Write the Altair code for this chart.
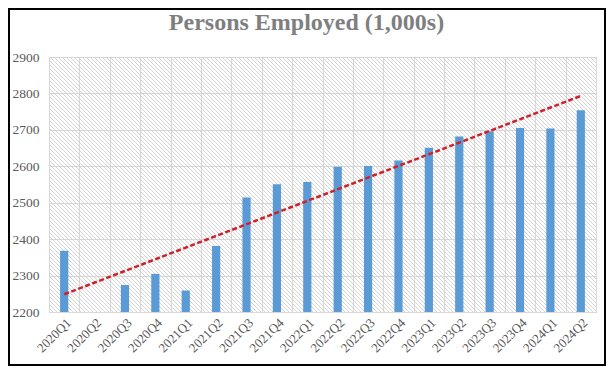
import altair as alt
import pandas as pd

quarters = ["2020Q1", "2020Q2", "2020Q3", "2020Q4", "2021Q1", "2021Q2", "2021Q3", "2021Q4",
            "2022Q1", "2022Q2", "2022Q3", "2022Q4", "2023Q1", "2023Q2", "2023Q3", "2023Q4",
            "2024Q1", "2024Q2"]
employed = [2368, 2160, 2274, 2304, 2259, 2381, 2514, 2551,
            2557, 2599, 2601, 2616, 2651, 2682, 2696, 2705,
            2704, 2754]
y_ticks = [2200, 2300, 2400, 2500, 2600, 2700, 2800, 2900]

df = pd.DataFrame({"quarter": quarters, "value": employed, "idx": list(range(len(quarters)))})

W, H = 547, 255
FONT = "Liberation Serif"

x_enc = alt.X("quarter:N", sort=quarters, title=None,
              scale=alt.Scale(paddingInner=0, paddingOuter=0),
              axis=alt.Axis(labelAngle=-45, tickBand="extent", grid=True, gridColor="#d9d9d9",
                            domainColor="#d9d9d9", ticks=False, labelPadding=4,
                            labelFont=FONT, labelFontSize=13, labelColor="#595959"))
y_enc = alt.Y("value:Q", title=None,
              scale=alt.Scale(domain=[2200, 2900], nice=False, zero=False),
              axis=alt.Axis(values=y_ticks, tickCount=8, format="d", labelOverlap=False,
                            grid=True, gridColor="#d9d9d9", domain=False, ticks=False,
                            labelPadding=10, labelFont=FONT, labelFontSize=13.5,
                            labelColor="#595959"))

bars = alt.Chart(df).mark_bar(color="#5b9bd5", width={"band": 0.27}, clip=True).encode(
    x=x_enc, y=y_enc)

trend = alt.Chart(df).transform_regression("idx", "value").transform_lookup(
    lookup="idx", from_=alt.LookupData(data=df, key="idx", fields=["quarter"])
).mark_line(color="#d0202a", strokeWidth=2.5, strokeDash=[5, 2.5]).encode(
    x=x_enc, y=y_enc)

main = alt.layer(bars, trend)

# decorative diagonal hatch of the plot background
hatch = alt.Chart(alt.sequence(0, 205, as_="i")).transform_calculate(
    sx="datum.i * 4 - 255", ex="datum.i * 4", sy="255", ey="0"
).mark_rule(color="#cecece", strokeWidth=0.9, clip=True).encode(
    x=alt.X("sx:Q", scale=alt.Scale(domain=[0, W], nice=False, zero=False), axis=None),
    x2="ex:Q",
    y=alt.Y("sy:Q", scale=alt.Scale(domain=[0, H], nice=False, zero=False), axis=None),
    y2="ey:Q")

frame = alt.Chart(pd.DataFrame({"a": [0]})).mark_rect(
    fill=None, stroke="#000000", strokeWidth=2, clip=False).encode(
    x=alt.value(-40), x2=alt.value(556), y=alt.value(-48), y2=alt.value(308))

chart = alt.layer(hatch, main, frame).resolve_scale(
    x="independent", y="independent"
).properties(
    width=W, height=H,
    autosize=alt.AutoSizeParams(type="none"),
    padding={"left": 41, "top": 49, "right": 10, "bottom": 54},
    title=alt.TitleParams("Persons Employed (1,000s)", font=FONT, fontSize=24, fontWeight="bold",
                          color="#7f7f7f", anchor="middle", dx=-16, offset=-27),
).configure_view(stroke=None).configure_axis(labelOverlap=False).configure(background="white")

chart.save("out.html", embed_options={"renderer": "svg", "actions": False})
